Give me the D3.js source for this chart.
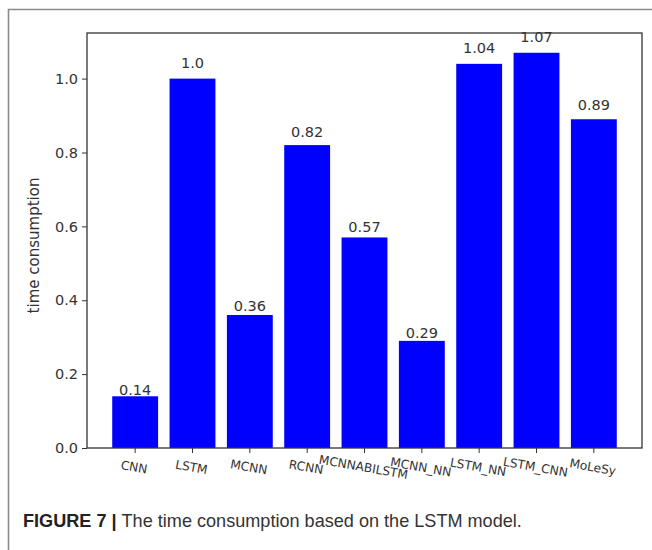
<!DOCTYPE html>
<html>
<head>
<meta charset="utf-8">
<script src="https://cdn.jsdelivr.net/npm/d3@7"></script>
<style>
  body { margin: 0; background: #fff; }
  svg { display: block; }
</style>
</head>
<body>
<script>
const w = 652;
const h = 550;

// Data

const models = ["CNN", "LSTM", "MCNN", "RCNN", "MCNNABILSTM", "MCNN_NN", "LSTM_NN", "LSTM_CNN", "MoLeSy"];
const times = [0.14, 1.0, 0.36, 0.82, 0.57, 0.29, 1.04, 1.07, 0.89];
const timeLabels = ["0.14", "1.0", "0.36", "0.82", "0.57", "0.29", "1.04", "1.07", "0.89"];
const yTicks = [0, 0.2, 0.4, 0.6, 0.8, 1.0];

const plotL = 87, plotR = 642, plotT = 33, plotB = 448;

// SVG

const svg = d3.select("body").append("svg").attr("width", w).attr("height", h);

// Outer frame (top + left rule)

svg.append("path")
  .attr("d", `M8.5,${h} L8.5,9.5 L${w},9.5`)
  .attr("fill", "none")
  .attr("stroke", "#8a8a8a")
  .attr("stroke-width", 1.6);

// Scales

const x = d3.scaleBand()
  .domain(models)
  .range([plotL, plotR])
  .paddingInner(0.2)
  .paddingOuter(0.44);

const y = d3.scaleLinear()
  .domain([0, d3.max(times) * 1.05])
  .range([plotB, plotT]);

// Bars

svg.append("g")
  .selectAll("rect")
  .data(models)
  .join("rect")
  .attr("x", (d) => x(d))
  .attr("y", (d, i) => y(times[i]))
  .attr("width", x.bandwidth())
  .attr("height", (d, i) => plotB - y(times[i]))
  .attr("fill", "#0000ff");

// Value labels

svg.append("g")
  .selectAll("text")
  .data(models)
  .join("text")
  .attr("x", (d) => x(d) + x.bandwidth() / 2)
  .attr("y", (d, i) => y(times[i] * 1.028))
  .attr("text-anchor", "middle")
  .attr("font-family", "DejaVu Sans")
  .attr("font-size", 14.5)
  .attr("fill", "#333")
  .text((d, i) => timeLabels[i]);

// Axes

const yAxis = svg.append("g")
  .attr("transform", `translate(${plotL},0)`)
  .call(d3.axisLeft(y).tickValues(yTicks).tickFormat(d3.format(".1f")).tickSize(5).tickPadding(4));

const xAxis = svg.append("g")
  .attr("transform", `translate(0,${plotB})`)
  .call(d3.axisBottom(x).tickSize(5).tickPadding(8));

[yAxis, xAxis].forEach((g) => {
  g.select(".domain").remove();
  g.selectAll("line").attr("stroke", "#333");
  g.selectAll("text").attr("font-family", "DejaVu Sans").attr("fill", "#333");
});

yAxis.selectAll("text").attr("font-size", 14.5);

xAxis.selectAll("text")
  .attr("font-size", 12.2)
  .attr("dy", "0.85em")
  .attr("transform", function () {
    return `rotate(10,0,${d3.select(this).attr("y")})`;
  });

// Spines

svg.append("rect")
  .attr("x", plotL)
  .attr("y", plotT)
  .attr("width", plotR - plotL)
  .attr("height", plotB - plotT)
  .attr("fill", "none")
  .attr("stroke", "#333")
  .attr("stroke-width", 1.3);

// Y label

svg.append("text")
  .attr("transform", `translate(39,${(plotT + plotB) / 2 + 5}) rotate(-90)`)
  .attr("text-anchor", "middle")
  .attr("font-family", "DejaVu Sans")
  .attr("font-size", 15)
  .attr("fill", "#333")
  .text("time consumption");

// Caption

const cap = svg.append("text")
  .attr("x", 23)
  .attr("y", 527)
  .attr("font-family", "Liberation Sans, Arial, sans-serif")
  .attr("font-size", 18.1)
  .attr("fill", "#222");

cap.append("tspan").attr("font-weight", "bold").text("FIGURE 7 | ");
cap.append("tspan").attr("fill", "#333").text("The time consumption based on the LSTM model.");
</script>
</body>
</html>
